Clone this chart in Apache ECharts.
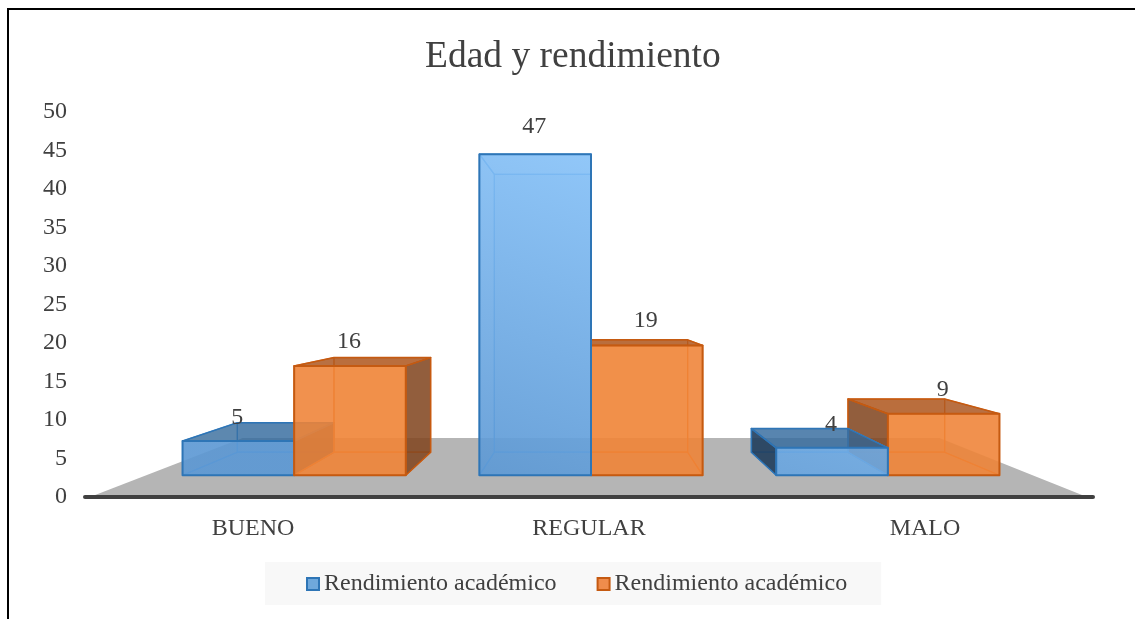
<!DOCTYPE html>
<html>
<head>
<meta charset="utf-8">
<style>html,body{margin:0;padding:0;background:#fff}#c{width:1135px;height:619px}</style>
<script src="https://cdn.jsdelivr.net/npm/echarts@6/dist/echarts.min.js"></script>
</head>
<body>
<div id="c"></div>
<script>
var titleText = 'Edad y rendimiento';
var categories = ['BUENO', 'REGULAR', 'MALO'];
var seriesNames = ['Rendimiento académico', 'Rendimiento académico '];
var valuesA = [5, 47, 4];
var valuesB = [16, 19, 9];

var FONT = '"Liberation Serif","Times New Roman",serif';
var TXT = '#404040';
var VY_ABOVE_AXIS = 193, VX_SHIFT = 2, X_RATIO = 0.996;
var S_FRONT = 0.887, S_BACK = 0.768, BAR_FRAC = 0.376;
var S_FLOOR_BACK = 0.694;

function makeProject(coordSys, y0) {
  var vx = coordSys.x + coordSys.width / 2, vy = y0 - VY_ABOVE_AXIS;
  return function (x, y, s) { return [vx + VX_SHIFT + (x - vx) * s * X_RATIO, vy + (y - vy) * s]; };
}

var styles = [
  {
    stroke: '#2e75b6', edge: 'rgba(75,150,220,0.9)',
    front: new echarts.graphic.LinearGradient(600, 150, 480, 480, [
      {offset: 0, color: 'rgba(135,195,250,0.86)'},
      {offset: 1, color: 'rgba(92,152,212,0.88)'}
    ], true),
    back: 'rgba(91,155,213,0.35)', top: 'rgba(46,100,150,0.72)', topIn: 'rgba(91,155,213,0.25)',
    sideOut: 'rgba(28,55,85,0.85)', sideIn: 'rgba(70,130,190,0.22)', bottom: 'rgba(91,155,213,0.3)'
  },
  {
    stroke: '#c55a11', edge: 'rgba(230,110,30,0.9)',
    front: 'rgba(240,133,56,0.86)',
    back: 'rgba(237,125,49,0.35)', top: 'rgba(170,85,30,0.8)', topIn: 'rgba(237,125,49,0.25)',
    sideOut: 'rgba(120,65,30,0.8)', sideIn: 'rgba(200,100,40,0.22)', bottom: 'rgba(237,125,49,0.3)'
  }
];

function barRenderer(seriesIdx) {
  return function (params, api) {
    var cat = api.value(0), v = api.value(1);
    var base = api.coord([cat, 0]), topPt = api.coord([cat, v]);
    var band = api.size([1, 0])[0], w = band * BAR_FRAC;
    var cx = base[0], y0 = base[1], yv = topPt[1];
    var P = makeProject(params.coordSys, y0);
    var xL = cx + (seriesIdx === 0 ? -w : 0), xR = xL + w;
    var fbl = P(xL, y0, S_FRONT), fbr = P(xR, y0, S_FRONT), ftl = P(xL, yv, S_FRONT), ftr = P(xR, yv, S_FRONT);
    var bbl = P(xL, y0, S_BACK), bbr = P(xR, y0, S_BACK), btl = P(xL, yv, S_BACK), btr = P(xR, yv, S_BACK);
    var st = styles[seriesIdx];
    var vx = params.coordSys.x + params.coordSys.width / 2 + VX_SHIFT;
    var leftOut = fbl[0] > vx + 1, rightOut = fbr[0] < vx - 1;
    var topOut = ftl[1] > y0 - VY_ABOVE_AXIS;
    // draw the pair member farther from the centre first
    var nearCentre = cx < vx - 5 ? seriesIdx === 1 : seriesIdx === 0;
    var z = nearCentre ? 20 : 0;
    function poly(pts, fill, stroke, lw, k) {
      return {type: 'polygon', z2: z + k, shape: {points: pts},
        style: {fill: fill, stroke: stroke, lineWidth: lw, lineJoin: 'round'}};
    }
    var e = st.edge;
    return {type: 'group', children: [
      poly([bbl, bbr, btr, btl], st.back, e, 1.2, 1),
      poly([fbl, fbr, bbr, bbl], st.bottom, e, 1.2, 2),
      poly([fbl, bbl, btl, ftl], leftOut ? st.sideOut : st.sideIn, leftOut ? st.stroke : e, leftOut ? 1.5 : 1.2, 3),
      poly([fbr, bbr, btr, ftr], rightOut ? st.sideOut : st.sideIn, rightOut ? st.stroke : e, rightOut ? 1.5 : 1.2, 4),
      poly([ftl, ftr, btr, btl], topOut ? st.top : st.topIn, topOut ? st.stroke : e, topOut ? 1.5 : 1.2, 5),
      poly([fbl, fbr, ftr, ftl], st.front, st.stroke, 2, 6),
      {type: 'text', z2: 60, style: {
        text: String(v), x: (fbl[0] + fbr[0]) / 2 - 1, y: bbl[1] - (y0 - yv) * 0.9,
        fill: TXT, font: '24px ' + FONT, align: 'center', verticalAlign: 'middle'}}
    ]};
  };
}

function floorRenderer(params, api) {
  var cs = params.coordSys, y0 = api.coord([0, 0])[1];
  var P = makeProject(cs, y0), xa = cs.x, xb = cs.x + cs.width;
  return {type: 'polygon', shape: {points: [
    [xa + 5, y0], [xb - 6, y0], P(xb, y0, S_FLOOR_BACK), P(xa, y0, S_FLOOR_BACK)
  ]}, style: {fill: '#b5b5b5'}};
}

function rows(values) { return values.map(function (v, i) { return [i, v]; }); }

var chart = echarts.init(document.getElementById('c'), null, {renderer: 'canvas'});
chart.setOption({
  animation: false,
  backgroundColor: '#ffffff',
  title: {text: titleText, left: 420, top: 33,
    textStyle: {fontFamily: FONT, fontSize: 37.5, fontWeight: 'normal', color: TXT}},
  legend: {
    left: 265, top: 562, padding: [10, 28, 9, 41],
    backgroundColor: '#f8f8f8', itemGap: 40, itemWidth: 12, itemHeight: 12, icon: 'rect',
    textStyle: {fontFamily: FONT, fontSize: 24, color: TXT},
    data: [
      {name: seriesNames[0], itemStyle: {color: '#6fa8dc', borderColor: '#2e75b6', borderWidth: 2}},
      {name: seriesNames[1], itemStyle: {color: '#ef8c4c', borderColor: '#c55a11', borderWidth: 2}}
    ]
  },
  grid: {left: 85, right: 42, top: 112, bottom: 122, containLabel: false},
  xAxis: {
    type: 'category', data: categories, z: 5,
    axisLine: {lineStyle: {color: '#404040', width: 4, cap: 'round'}},
    axisTick: {show: false},
    axisLabel: {fontFamily: FONT, fontSize: 24, color: TXT, margin: 20}
  },
  yAxis: {
    type: 'value', min: 0, max: 50, interval: 5,
    axisLine: {show: false}, axisTick: {show: false}, splitLine: {show: false},
    axisLabel: {fontFamily: FONT, fontSize: 24, color: TXT, margin: 18}
  },
  graphic: [
    {type: 'polyline', silent: true, shape: {points: [[8, 619], [8, 9], [1135, 9]]},
      style: {fill: 'none', stroke: '#000', lineWidth: 2}}
  ],
  series: [
    {type: 'custom', name: 'floor', silent: true, z: 1, data: [[0, 0]], renderItem: floorRenderer, legendHoverLink: false},
    {type: 'custom', name: seriesNames[0], z: 2, data: rows(valuesA), renderItem: barRenderer(0), itemStyle: {color: '#6fa8dc'}},
    {type: 'custom', name: seriesNames[1], z: 2, data: rows(valuesB), renderItem: barRenderer(1), itemStyle: {color: '#ef8c4c'}}
  ]
});
</script>
</body>
</html>
